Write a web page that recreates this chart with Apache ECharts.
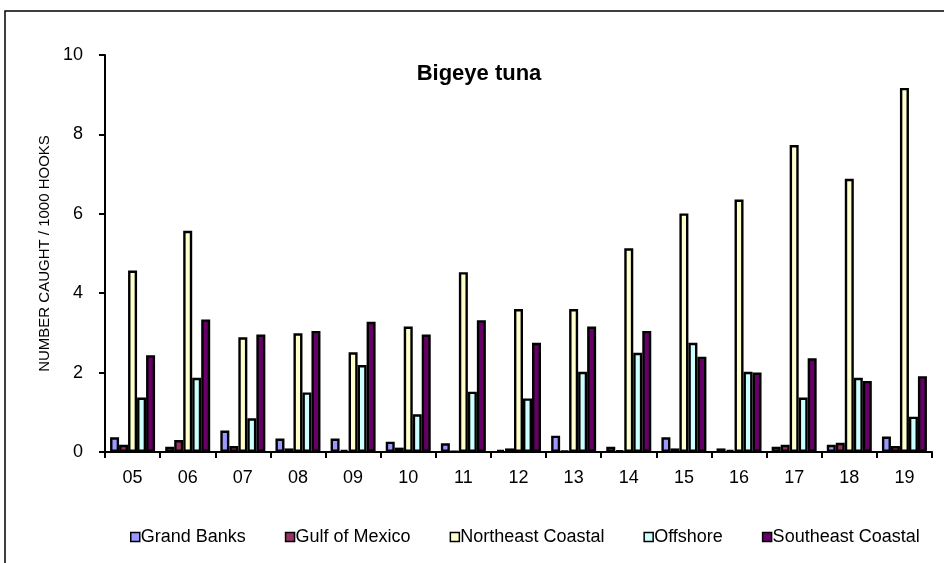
<!DOCTYPE html>
<html>
<head>
<meta charset="utf-8">
<script src="https://cdn.jsdelivr.net/npm/echarts@6/dist/echarts.min.js"></script>
<style>
  html, body { margin: 0; padding: 0; background: #fff; }
  #chart { width: 944px; height: 563px; }
</style>
</head>
<body>
<div id="chart"></div>
<script>
// Years (two-digit labels)
const years = ['05','06','07','08','09','10','11','12','13','14','15','16','17','18','19'];

// Bigeye tuna catch rate, number caught per 1000 hooks, by area
const grandBanks        = [0.37, 0.13, 0.54, 0.34, 0.34, 0.26, 0.22, 0.05, 0.41, 0.13, 0.37, 0.09, 0.13, 0.18, 0.39];
const gulfOfMexico      = [0.18, 0.30, 0.15, 0.09, 0.05, 0.11, 0.02, 0.09, 0.03, 0.04, 0.09, 0.05, 0.18, 0.23, 0.15];
const northeastCoastal  = [4.57, 5.57, 2.89, 2.99, 2.51, 3.16, 4.53, 3.60, 3.60, 5.13, 6.01, 6.36, 7.73, 6.88, 9.17];
const offshore          = [1.37, 1.87, 0.85, 1.50, 2.19, 0.95, 1.52, 1.35, 2.02, 2.50, 2.75, 2.02, 1.37, 1.87, 0.89];
const southeastCoastal  = [2.44, 3.34, 2.96, 3.05, 3.28, 2.96, 3.32, 2.75, 3.16, 3.05, 2.40, 2.00, 2.36, 1.79, 1.91];

const yTicks = [0, 2, 4, 6, 8, 10];

const seriesDefs = [
  { name: 'Grand Banks',       data: grandBanks,       color: '#9999FF' },
  { name: 'Gulf of Mexico',    data: gulfOfMexico,     color: '#993366' },
  { name: 'Northeast Coastal', data: northeastCoastal, color: '#FFFFCC' },
  { name: 'Offshore',          data: offshore,         color: '#CCFFFF' },
  { name: 'Southeast Coastal', data: southeastCoastal, color: '#660066' }
];

const font = 'Arial, "Liberation Sans", Helvetica, sans-serif';
const chart = echarts.init(document.getElementById('chart'), null, { renderer: 'canvas' });

chart.setOption({
  backgroundColor: '#ffffff',
  animation: false,
  graphic: [{
    type: 'rect',
    shape: { x: 5, y: 11, width: 1000, height: 700 },
    style: { fill: 'none', stroke: '#000', lineWidth: 1.5 },
    silent: true
  }],
  title: {
    text: 'Bigeye tuna',
    left: 474,
    top: 58,
    textAlign: 'center',
    textStyle: { fontFamily: font, fontSize: 22, fontWeight: 'bold', color: '#000' }
  },
  legend: {
    left: 125,
    top: 523,
    itemWidth: 9,
    itemHeight: 9,
    itemGap: 39,
    icon: 'rect',
    textStyle: { fontFamily: font, fontSize: 18, color: '#000', padding: [0, 0, 0, -4] },
    data: seriesDefs.map(s => ({ name: s.name, itemStyle: { borderColor: '#000', borderWidth: 1.5 } }))
  },
  grid: { left: 105, right: 12, top: 55, bottom: 111, containLabel: false },
  xAxis: {
    type: 'category',
    data: years,
    axisLine: { lineStyle: { color: '#000', width: 2 } },
    axisTick: { show: true, alignWithLabel: false, inside: false, length: 6, lineStyle: { color: '#000', width: 2 } },
    axisLabel: { fontFamily: font, fontSize: 18, color: '#000', margin: 17 }
  },
  yAxis: {
    type: 'value',
    min: yTicks[0],
    max: yTicks[yTicks.length - 1],
    interval: 2,
    name: 'NUMBER CAUGHT / 1000 HOOKS',
    nameLocation: 'middle',
    nameGap: 51,
    nameRotate: 90,
    nameTextStyle: { fontFamily: font, fontSize: 15, color: '#000' },
    axisLine: { show: true, lineStyle: { color: '#000', width: 2 } },
    axisTick: { show: true, inside: false, length: 6, lineStyle: { color: '#000', width: 2 } },
    axisLabel: { fontFamily: font, fontSize: 18, color: '#000', margin: 22 },
    splitLine: { show: false }
  },
  series: seriesDefs.map(s => ({
    name: s.name,
    type: 'bar',
    data: s.data,
    barWidth: 9,
    barGap: '0%',
    itemStyle: { color: s.color, borderColor: '#000', borderWidth: 2.4 }
  }))
});
</script>
</body>
</html>
